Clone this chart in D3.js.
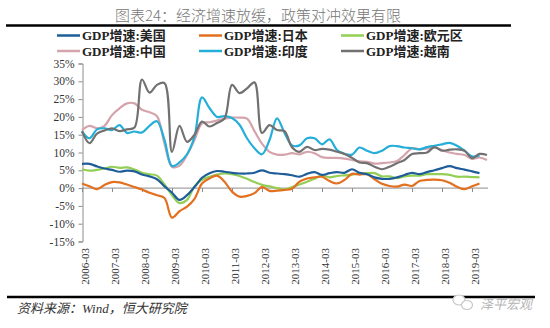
<!DOCTYPE html>
<html>
<head>
<meta charset="utf-8">
<script src="https://cdn.jsdelivr.net/npm/d3@7"></script>
<style>
  body { margin: 0; background: #fff; }
  svg { display: block; }
</style>
</head>
<body>
<svg></svg>
<script>
const width = 550
const height = 328
const svg = d3.select('svg')
  .attr('width', width)
  .attr('height', height)
  .style("background", "#fff");

// quarterly nominal GDP growth, %, from 2006-03
var usGrowth = [6.8,6.8,6.1,5.5,5.1,4.6,4.9,4.7,3.8,3.3,2.5,0.5,-1.3,-3.3,-2.0,0.3,2.9,4.2,4.8,4.6,4.3,4.1,4.1,4.3,5.0,4.3,4.1,3.9,3.6,3.2,4.0,4.5,3.7,4.2,4.5,4.3,5.3,4.3,3.9,3.0,2.6,2.6,3.0,3.7,4.3,3.9,4.5,5.0,5.6,6.2,5.6,5.2,4.7,4.2];
var japanGrowth = [1.3,0.5,-0.3,0.9,1.7,1.6,1.0,0.3,-0.4,-1.3,-2.0,-2.8,-8.3,-6.5,-5.2,-3.0,1.3,2.7,3.5,1.8,-1.0,-2.4,-2.2,-1.4,0.3,-0.8,-0.7,-0.5,-0.2,1.8,2.7,3.0,3.2,2.0,1.3,2.3,4.0,3.8,3.9,2.5,1.2,0.6,0.4,1.0,0.6,2.0,2.3,2.4,2.2,1.5,0.4,-0.3,0.5,1.3];
var euroGrowth = [5.3,4.9,5.1,5.5,6.0,5.7,5.8,5.2,4.3,3.9,3.5,1.0,-2.0,-4.2,-3.3,0.5,2.3,3.2,3.8,4.1,3.9,3.4,2.6,1.7,0.9,0.5,0.0,-0.4,0.3,1.0,1.8,2.6,3.6,3.0,3.4,3.6,3.8,4.1,4.2,4.2,3.3,3.3,2.8,3.3,3.5,3.5,3.9,3.9,3.9,3.7,3.2,3.2,3.1,3.0];
var chinaGrowth = [16.3,17.5,16.8,17.5,20.5,22.4,23.8,23.8,22.0,21.3,20.2,12.5,6.0,6.3,9.3,13.5,18.2,18.5,19.0,19.5,19.8,19.8,19.5,16.0,12.5,10.2,9.4,9.4,9.8,9.5,10.2,9.8,8.7,8.5,8.5,8.3,7.9,7.5,7.4,6.9,7.0,7.2,7.6,9.3,11.2,10.9,11.1,11.4,10.7,10.0,9.6,9.3,8.2,8.6,7.9];
var indiaGrowth = [15.9,14.0,16.5,16.8,16.3,17.7,15.5,15.9,15.6,17.5,18.8,13.5,6.2,7.2,9.5,14.5,25.5,22.5,20.0,20.2,19.7,17.8,14.0,11.2,9.5,13.5,19.6,15.5,12.0,12.0,14.0,14.0,12.3,13.7,10.7,9.6,9.4,11.4,10.5,9.8,10.5,11.8,11.8,11.4,11.2,10.9,11.5,11.9,12.3,12.7,11.9,10.5,8.9,9.2];
var vietnamGrowth = [16.0,12.6,15.3,16.2,16.8,16.0,16.5,17.0,30.5,26.8,29.0,29.5,10.2,17.5,13.0,15.0,18.7,17.3,18.3,19.5,29.0,26.7,28.0,29.7,15.5,17.7,16.3,16.0,11.5,10.2,11.6,10.7,11.0,10.8,10.2,9.6,8.5,7.2,7.0,6.0,5.3,6.0,7.0,7.9,9.6,9.8,10.0,11.5,10.5,10.8,10.9,10.5,8.4,9.6,9.3];

var seriesNames = ["GDP增速:美国", "GDP增速:日本", "GDP增速:欧元区", "GDP增速:中国", "GDP增速:印度", "GDP增速:越南"];
var seriesColors = ["#1f5d99", "#e2701f", "#93cf55", "#d4a3ab", "#25afd8", "#717171"];
var yTicks = [35, 30, 25, 20, 15, 10, 5, 0, -5, -10, -15];
var xTickLabels = ["2006-03","2007-03","2008-03","2009-03","2010-03","2011-03","2012-03","2013-03","2014-03","2015-03","2016-03","2017-03","2018-03","2019-03"];

var allSeries = [usGrowth, japanGrowth, euroGrowth, chinaGrowth, indiaGrowth, vietnamGrowth];

// quarter labels 2006-03 .. 2019-09
var fmt = d3.timeFormat("%Y-%m");
var quarters = d3.timeMonth
  .range(new Date(2006, 2, 1), new Date(2019, 9, 1), 3)
  .map(fmt);

var x = d3.scalePoint()
  .domain(quarters)
  .range([82, 487]);

var y = d3.scaleLinear()
  .domain([-15, 35])
  .range([241.5, 63.5]);

// title and rules
svg.append("text")
  .attr("x", 258)
  .attr("y", 21)
  .attr("text-anchor", "middle")
  .text("图表24：经济增速放缓，政策对冲效果有限")
  .style("font-family", "'Noto Sans CJK SC', sans-serif")
  .style("font-weight", 300)
  .style("font-size", "15px")
  .style("fill", "#777");

svg.append("line").attr("x1", 6).attr("x2", 511).attr("y1", 25.5).attr("y2", 25.5)
  .style("stroke", "#000").style("stroke-width", 2.5);
svg.append("line").attr("x1", 7).attr("x2", 535).attr("y1", 297).attr("y2", 297)
  .style("stroke", "#000").style("stroke-width", 2.5);

// legend, 3 columns x 2 rows
var legend = svg.append("g")
  .selectAll("g")
  .data(seriesNames)
  .enter()
  .append("g")
  .attr("transform", function(d, i) {
    return "translate(" + (57 + (i % 3) * 142) + "," + (i < 3 ? 35.5 : 51) + ")";
  });

legend.append("line")
  .attr("x1", 0).attr("x2", 23)
  .style("stroke", function(d, i) { return seriesColors[i]; })
  .style("stroke-width", 2.5);

legend.append("text")
  .attr("x", 25)
  .attr("y", 4.5)
  .text(d => d)
  .style("font-family", "'Liberation Serif', 'Noto Sans CJK SC', serif")
  .style("font-weight", "bold")
  .style("font-size", "13px")
  .style("fill", "#222");

// y axis
var yAxis = svg.append("g")
  .attr("transform", "translate(82.5,0)")
  .call(d3.axisLeft(y).tickValues(yTicks).tickSize(4).tickFormat(d => d + "%"));

yAxis.select(".domain").style("stroke", "#8c8c8c");
yAxis.selectAll(".tick line").style("stroke", "#8c8c8c");
yAxis.selectAll(".tick text")
  .attr("x", -8)
  .style("font-family", "'Liberation Serif', serif")
  .style("font-size", "11.5px")
  .style("fill", "#333");

// x axis along the zero line
var xAxis = svg.append("g")
  .attr("transform", "translate(0," + y(0) + ")")
  .call(d3.axisBottom(x).tickValues(xTickLabels).tickSize(4).tickSizeOuter(0).tickFormat(""));

xAxis.select(".domain").style("stroke", "#8c8c8c").attr("d", "M82,0H488");
xAxis.selectAll(".tick line").style("stroke", "#8c8c8c");

// rotated year labels below the plot
svg.append("g")
  .selectAll("text")
  .data(xTickLabels)
  .enter()
  .append("text")
  .attr("transform", d => "translate(" + (x(d) + 7) + ",248) rotate(-90)")
  .attr("text-anchor", "end")
  .text(d => d)
  .style("font-family", "'Liberation Serif', serif")
  .style("font-size", "11px")
  .style("fill", "#333");

// series lines
var line = d3.line()
  .x((d, i) => x(quarters[i]))
  .y(d => y(d))
  .curve(d3.curveCatmullRom.alpha(0.5));

// draw order: china, india, vietnam underneath, then the rest
var drawOrder = [3, 4, 5, 2, 1, 0];
svg.append("g")
  .selectAll("path")
  .data(drawOrder)
  .enter()
  .append("path")
  .attr("d", k => line(allSeries[k]))
  .style("fill", "none")
  .style("stroke", k => seriesColors[k])
  .style("stroke-width", 2.2)
  .style("stroke-linejoin", "round");

// source note
svg.append("text")
  .attr("x", 17)
  .attr("y", 313)
  .text("资料来源：Wind，恒大研究院")
  .style("font-family", "'Liberation Serif', 'Noto Sans CJK SC', serif")
  .style("font-style", "italic")
  .style("font-size", "13px")
  .style("fill", "#333");

// watermark
var mark = svg.append("g");
mark.append("ellipse").attr("cx", 459).attr("cy", 300).attr("rx", 6).attr("ry", 5)
  .style("fill", "#fff").style("stroke", "#c8c8c8").style("stroke-width", 1.2);
mark.append("ellipse").attr("cx", 467).attr("cy", 305).attr("rx", 5.5).attr("ry", 4.5)
  .style("fill", "#fff").style("stroke", "#c8c8c8").style("stroke-width", 1.2);
mark.append("text")
  .attr("x", 480)
  .attr("y", 309)
  .text("泽平宏观")
  .style("font-family", "'Noto Sans CJK SC', sans-serif")
  .style("font-style", "italic")
  .style("font-size", "13px")
  .style("fill", "#b5b5b5");
</script>
</body>
</html>
